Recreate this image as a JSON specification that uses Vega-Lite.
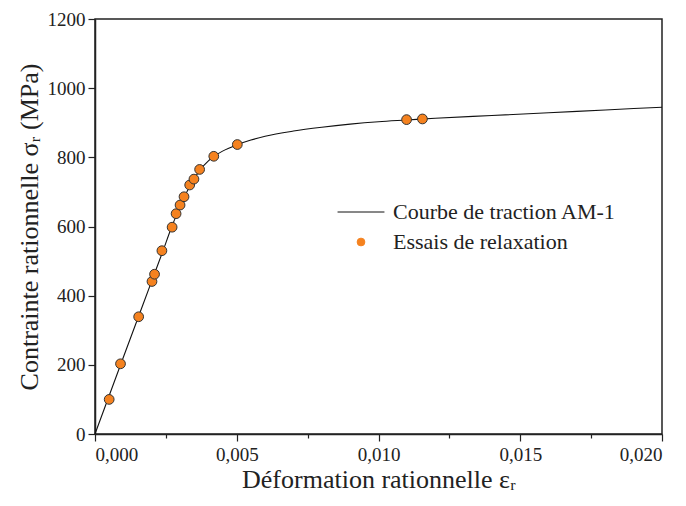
{
  "$schema": "https://vega.github.io/schema/vega-lite/v6.json",
  "width": 567,
  "height": 415,
  "autosize": {"type": "none"},
  "padding": {"left": 95, "top": 19, "right": 24, "bottom": 72},
  "background": "white",
  "config": {
    "font": "Liberation Serif",
    "view": {"stroke": "#222", "strokeWidth": 1.5},
    "axis": {
      "labelFont": "Liberation Serif",
      "titleFont": "Liberation Serif",
      "labelFontSize": 19,
      "titleFontSize": 26,
      "labelColor": "#222",
      "titleColor": "#222",
      "titleFontWeight": "normal",
      "domainColor": "#222",
      "domainWidth": 1.5,
      "tickColor": "#222",
      "tickWidth": 1.2,
      "grid": false
    },
    "legend": {
      "labelFont": "Liberation Serif"
    }
  },
  "datasets": {
    "curve": [
      {"eps": 0.0, "sig": 0},
      {"eps": 0.001, "sig": 222},
      {"eps": 0.002, "sig": 442},
      {"eps": 0.0024, "sig": 530},
      {"eps": 0.0027, "sig": 598},
      {"eps": 0.0029, "sig": 638},
      {"eps": 0.0031, "sig": 675},
      {"eps": 0.0033, "sig": 710},
      {"eps": 0.0035, "sig": 738},
      {"eps": 0.0037, "sig": 763},
      {"eps": 0.004, "sig": 790},
      {"eps": 0.0042, "sig": 803},
      {"eps": 0.0045, "sig": 818},
      {"eps": 0.005, "sig": 836},
      {"eps": 0.0055, "sig": 850},
      {"eps": 0.006, "sig": 861},
      {"eps": 0.007, "sig": 876},
      {"eps": 0.008, "sig": 887},
      {"eps": 0.009, "sig": 896},
      {"eps": 0.01, "sig": 903},
      {"eps": 0.011, "sig": 908},
      {"eps": 0.012, "sig": 913},
      {"eps": 0.014, "sig": 921},
      {"eps": 0.016, "sig": 929},
      {"eps": 0.018, "sig": 937},
      {"eps": 0.02, "sig": 945}
    ],
    "points": [
      {"eps": 0.0005, "sig": 100},
      {"eps": 0.0009, "sig": 203},
      {"eps": 0.00154, "sig": 339},
      {"eps": 0.00201, "sig": 441},
      {"eps": 0.0021, "sig": 462},
      {"eps": 0.00236, "sig": 530},
      {"eps": 0.00272, "sig": 598},
      {"eps": 0.00286, "sig": 637},
      {"eps": 0.003, "sig": 662},
      {"eps": 0.00314, "sig": 686},
      {"eps": 0.00334, "sig": 720},
      {"eps": 0.00349, "sig": 737},
      {"eps": 0.00369, "sig": 765},
      {"eps": 0.00419, "sig": 803},
      {"eps": 0.00502, "sig": 837},
      {"eps": 0.01099, "sig": 909},
      {"eps": 0.01155, "sig": 911}
    ]
  },
  "layer": [
    {
      "data": {"name": "curve"},
      "transform": [{"calculate": "'Courbe de traction AM-1'", "as": "serie"}],
      "mark": {"type": "line", "strokeWidth": 1.1, "interpolate": "monotone"},
      "encoding": {
        "x": {
          "field": "eps", "type": "quantitative",
          "scale": {"domain": [0, 0.02], "nice": false, "zero": false},
          "axis": {
            "title": "Déformation rationnelle εᵣ",
            "values": [0, 0.0025, 0.005, 0.0075, 0.01, 0.0125, 0.015, 0.0175, 0.02],
            "labelExpr": "round(datum.value*400) % 2 === 0 ? replace(format(datum.value, '.3f'), '.', ',') : ''",
            "tickSize": {"condition": {"test": "round(datum.value*400) % 2 === 0", "value": 7}, "value": 4},
            "labelPadding": 4,
            "titlePadding": 2
          }
        },
        "y": {
          "field": "sig", "type": "quantitative",
          "scale": {"domain": [0, 1200], "nice": false},
          "axis": {
            "title": "Contrainte rationnelle σᵣ (MPa)",
            "values": [0, 100, 200, 300, 400, 500, 600, 700, 800, 900, 1000, 1100, 1200],
            "labelExpr": "datum.value % 200 === 0 ? format(datum.value, 'd') : ''",
            "tickSize": {"condition": {"test": "datum.value % 200 === 0", "value": 7}, "value": 4},
            "labelPadding": 3,
            "titlePadding": 5
          }
        },
        "color": {
          "field": "serie", "type": "nominal",
          "scale": {"domain": ["Courbe de traction AM-1", "Essais de relaxation"], "range": ["#111111", "#F5821F"]},
          "legend": {
            "title": null,
            "orient": "none",
            "legendX": 242,
            "legendY": 182,
            "labelFont": "Liberation Serif",
            "labelFontSize": 22,
            "labelColor": "#222",
            "labelLimit": 400,
            "labelOffset": 34,
            "rowPadding": 8,
            "encode": {
              "symbols": {
                "update": {
                  "x": {"value": 24},
                  "shape": {"signal": "datum.value === 'Courbe de traction AM-1' ? 'stroke' : 'circle'"},
                  "size": {"signal": "datum.value === 'Courbe de traction AM-1' ? 2200 : 60"},
                  "fill": {"signal": "datum.value === 'Courbe de traction AM-1' ? 'transparent' : '#F5821F'"},
                  "stroke": {"signal": "datum.value === 'Courbe de traction AM-1' ? '#111' : '#333'"},
                  "strokeWidth": {"value": 1}
                }
              }
            }
          }
        }
      }
    },
    {
      "data": {"name": "points"},
      "transform": [{"calculate": "'Essais de relaxation'", "as": "serie"}],
      "mark": {"type": "point", "filled": true, "size": 95, "stroke": "#333", "strokeWidth": 1, "opacity": 1},
      "encoding": {
        "x": {"field": "eps", "type": "quantitative"},
        "y": {"field": "sig", "type": "quantitative"},
        "color": {"field": "serie", "type": "nominal"}
      }
    }
  ]
}
